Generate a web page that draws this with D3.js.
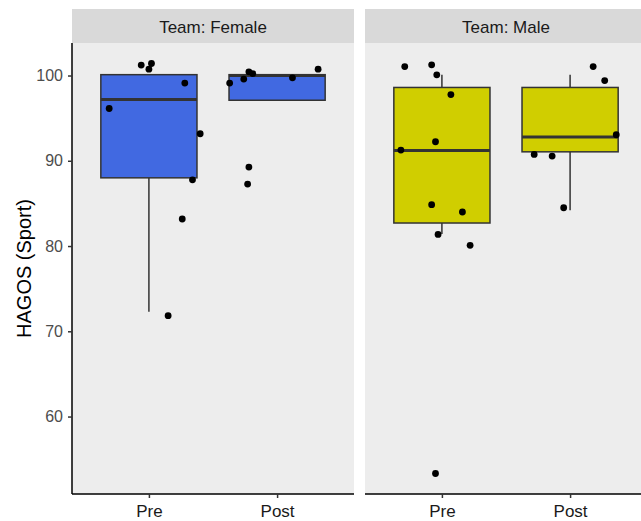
<!DOCTYPE html>
<html>
<head>
<meta charset="utf-8">
<script src="https://cdn.jsdelivr.net/npm/d3@7"></script>
<style>
  body { margin: 0; background: #fff; }
  text { font-family: "Liberation Sans", Arial, sans-serif; }
</style>
</head>
<body>
<div id="wrapper"></div>
<script>
// facets and x categories
const teams = ["Female", "Male"]
const phases = ["Pre", "Post"]
const teamColors = ["#4169e1", "#d0ce00"]

// box stats: [lower whisker, q1, median, q3, upper whisker]
const femaleBoxes = [[72.3, 88.0, 97.2, 100.1, 100.1], [97.1, 97.1, 100.0, 100.1, 100.1]]
const maleBoxes = [[81.4, 82.7, 91.2, 98.6, 100.1], [84.2, 91.05, 92.8, 98.6, 100.1]]

// jittered points (value, horizontal jitter in category units)
const femalePreValues = [101.22, 101.41, 100.75, 99.11, 96.13, 93.17, 87.77, 83.17, 71.83]
const femalePreJitter = [-0.06, 0.02, 0.0, 0.28, -0.31, 0.40, 0.34, 0.26, 0.15]
const femalePostValues = [99.11, 99.58, 100.43, 100.23, 99.73, 100.75, 89.26, 87.27]
const femalePostJitter = [-0.37, -0.26, -0.22, -0.19, 0.12, 0.32, -0.22, -0.23]
const malePreValues = [101.05, 101.25, 100.08, 97.77, 92.23, 91.26, 84.85, 83.99, 81.36, 80.08, 53.32]
const malePreJitter = [-0.29, -0.08, -0.04, 0.07, -0.05, -0.32, -0.08, 0.16, -0.03, 0.22, -0.05]
const malePostValues = [101.05, 99.41, 93.05, 90.74, 90.55, 84.49]
const malePostJitter = [0.18, 0.27, 0.36, -0.28, -0.14, -0.05]

const yTicks = [60, 70, 80, 90, 100]
const yTitle = "HAGOS (Sport)"

// build tables
const boxes = [femaleBoxes, maleBoxes]
const pointSets = [
  [[femalePreValues, femalePreJitter], [femalePostValues, femalePostJitter]],
  [[malePreValues, malePreJitter], [malePostValues, malePostJitter]],
]

const dms = {
  width: 641,
  height: 521,
  panelTop: 43,
  panelBottom: 494,
  stripTop: 9,
  panelLefts: [72, 365],
  panelWidth: 282,
}

const allValues = [
  ...femalePreValues, ...femalePostValues, ...malePreValues, ...malePostValues,
  ...femaleBoxes.flat(), ...maleBoxes.flat(),
]
const [vMin, vMax] = d3.extent(allValues)
const pad = (vMax - vMin) * 0.05

const yScale = d3.scaleLinear()
  .domain([vMin - pad, vMax + pad])
  .range([dms.panelBottom, dms.panelTop])

const xScale = d3.scalePoint()
  .domain(phases)
  .range([0, dms.panelWidth])
  .padding(0.6)

const step = xScale.step()
const boxWidth = step * 0.75

const svg = d3.select("#wrapper")
  .append("svg")
  .attr("width", dms.width)
  .attr("height", dms.height)

teams.forEach((team, ti) => {
  const left = dms.panelLefts[ti]
  const g = svg.append("g")
    .attr("transform", `translate(${left},0)`)

  // panel background
  g.append("rect")
    .attr("x", 0)
    .attr("y", dms.panelTop)
    .attr("width", dms.panelWidth)
    .attr("height", dms.panelBottom - dms.panelTop)
    .attr("fill", "#ededed")

  // strip
  g.append("rect")
    .attr("x", 0)
    .attr("y", dms.stripTop)
    .attr("width", dms.panelWidth)
    .attr("height", dms.panelTop - dms.stripTop)
    .attr("fill", "#d9d9d9")
  g.append("text")
    .attr("x", dms.panelWidth / 2)
    .attr("y", dms.stripTop + 24)
    .attr("text-anchor", "middle")
    .attr("font-size", 17)
    .attr("fill", "#1a1a1a")
    .text(`Team: ${team}`)

  // boxes
  phases.forEach((phase, pi) => {
    const [lo, q1, med, q3, hi] = boxes[ti][pi]
    const cx = xScale(phase)
    const bg = g.append("g")
    bg.append("line")
      .attr("x1", cx).attr("x2", cx)
      .attr("y1", yScale(q3)).attr("y2", yScale(hi))
      .attr("stroke", "#333").attr("stroke-width", 1.5)
    bg.append("line")
      .attr("x1", cx).attr("x2", cx)
      .attr("y1", yScale(q1)).attr("y2", yScale(lo))
      .attr("stroke", "#333").attr("stroke-width", 1.5)
    bg.append("rect")
      .attr("x", cx - boxWidth / 2)
      .attr("y", yScale(q3))
      .attr("width", boxWidth)
      .attr("height", yScale(q1) - yScale(q3))
      .attr("fill", teamColors[ti])
      .attr("stroke", "#333")
      .attr("stroke-width", 1.5)
    bg.append("line")
      .attr("x1", cx - boxWidth / 2).attr("x2", cx + boxWidth / 2)
      .attr("y1", yScale(med)).attr("y2", yScale(med))
      .attr("stroke", "#333").attr("stroke-width", 3)
  })

  // jittered points
  phases.forEach((phase, pi) => {
    const [vals, jit] = pointSets[ti][pi]
    g.append("g")
      .selectAll("circle")
      .data(vals.map((v, i) => ({ v, j: jit[i] })))
      .join("circle")
      .attr("cx", d => xScale(phase) + d.j * step)
      .attr("cy", d => yScale(d.v))
      .attr("r", 3.4)
      .attr("fill", "#000")
  })

  // x axis
  const xAxis = g.append("g")
    .attr("transform", `translate(0,${dms.panelBottom})`)
    .call(d3.axisBottom(xScale).tickSize(4).tickPadding(7).tickSizeOuter(0))
  xAxis.select(".domain").attr("stroke", "#000").attr("stroke-width", 1.5)
    .attr("d", `M0,0H${dms.panelWidth}`)
  xAxis.selectAll(".tick line").attr("stroke", "#333").attr("stroke-width", 1.5)
  xAxis.selectAll(".tick text")
    .attr("font-size", 17)
    .attr("fill", "#1a1a1a")
    .attr("font-family", "Liberation Sans, Arial, sans-serif")

  // y axis only on first panel
  if (ti === 0) {
    const yAxis = g.append("g")
      .call(d3.axisLeft(yScale).tickValues(yTicks).tickSize(4).tickPadding(5).tickSizeOuter(0))
    yAxis.select(".domain").attr("stroke", "#000").attr("stroke-width", 1.5)
      .attr("d", `M0,${dms.panelTop}V${dms.panelBottom}`)
    yAxis.selectAll(".tick line").attr("stroke", "#333").attr("stroke-width", 1.5)
    yAxis.selectAll(".tick text")
      .attr("font-size", 16)
      .attr("fill", "#4d4d4d")
      .attr("font-family", "Liberation Sans, Arial, sans-serif")
  }
})

svg.append("text")
  .attr("transform", `translate(31,${(dms.panelTop + dms.panelBottom) / 2}) rotate(-90)`)
  .attr("text-anchor", "middle")
  .attr("font-size", 20)
  .attr("fill", "#000")
  .text(yTitle)
</script>
</body>
</html>
